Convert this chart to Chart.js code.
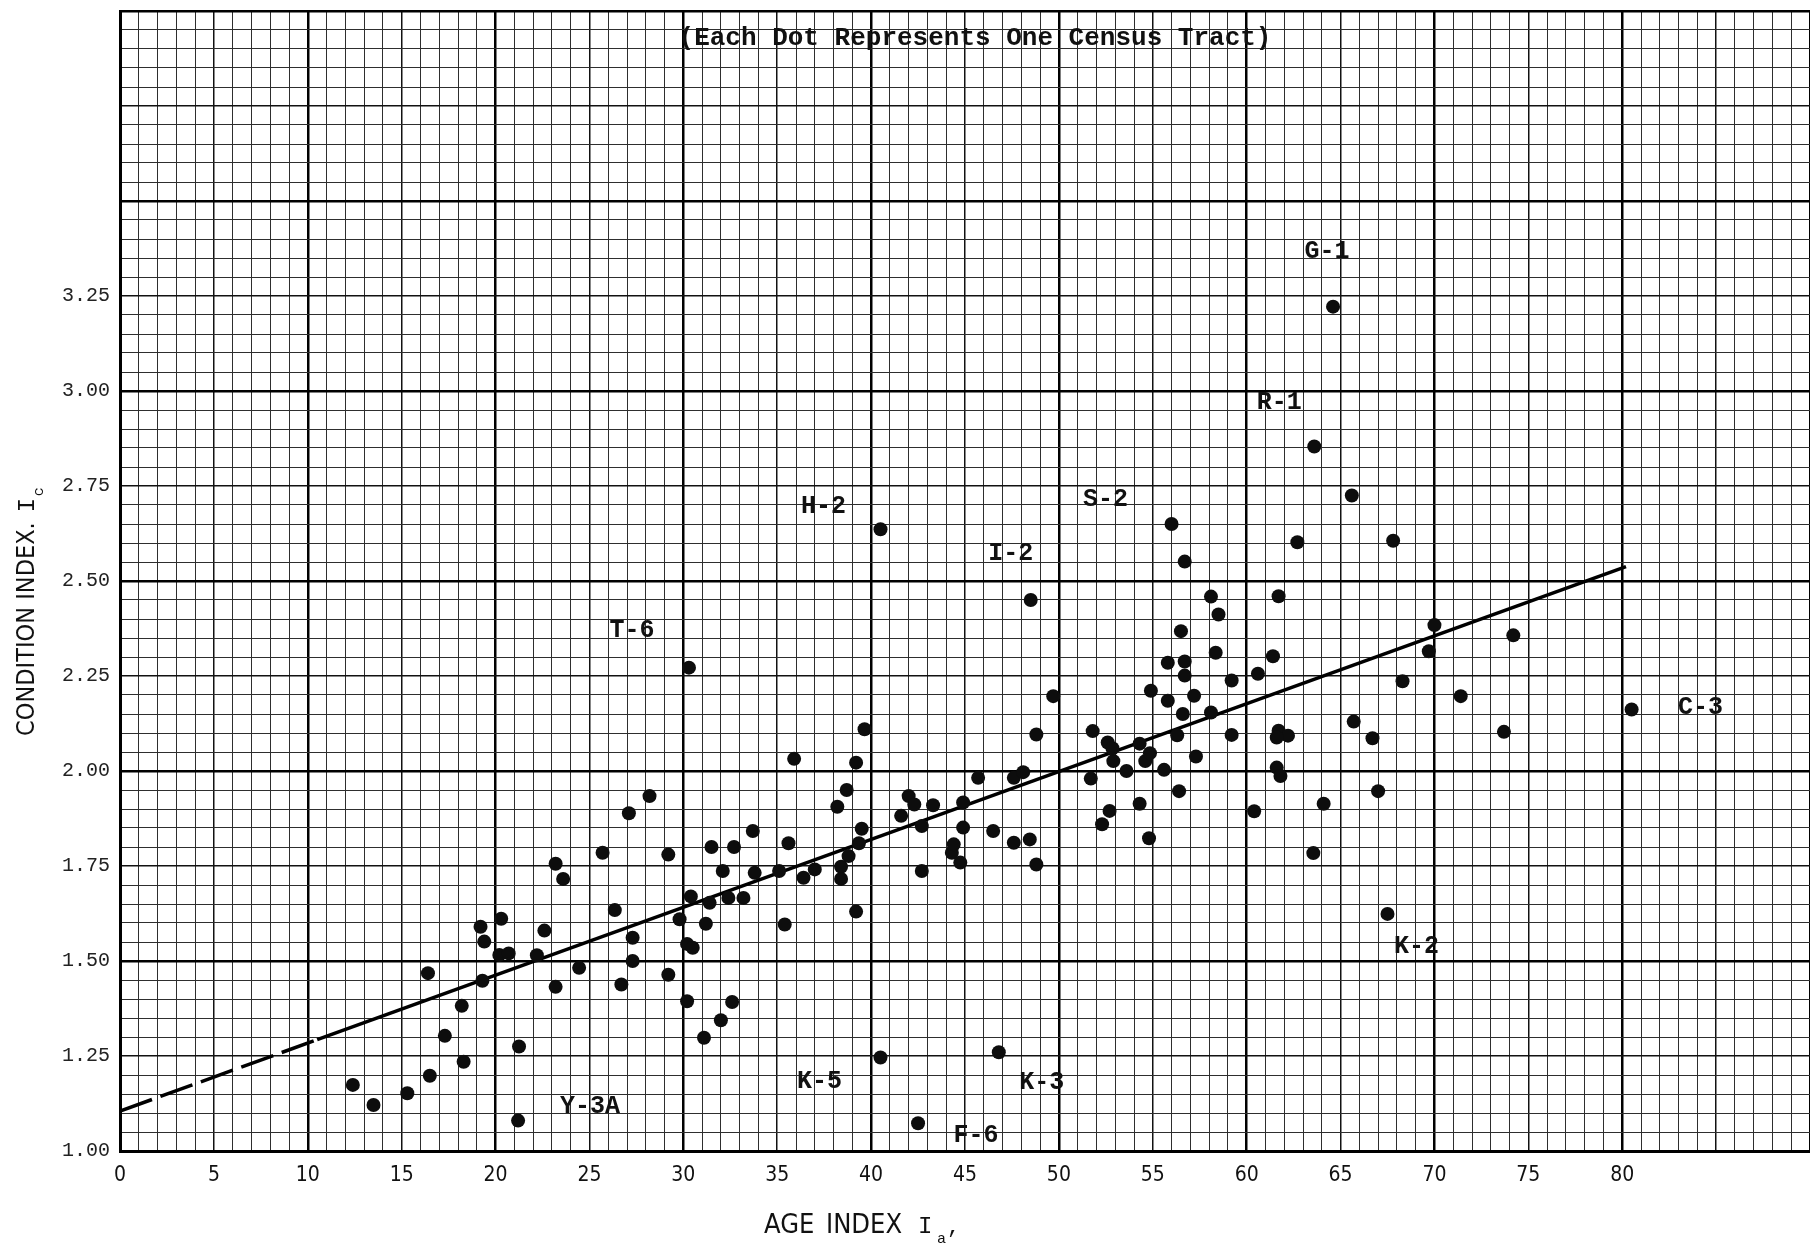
<!DOCTYPE html>
<html><head><meta charset="utf-8">
<script src="https://cdn.jsdelivr.net/npm/chart.js@4.4.1/dist/chart.umd.min.js"></script>
<style>html,body{margin:0;padding:0;background:#fff;}canvas{display:block}</style>
</head><body>
<canvas id="c" width="1810" height="1248"></canvas>
<script>
// ---- data ----
const ageIndex = [12.4,13.5,15.3,16.5,16.4,17.3,18.2,18.3,19.2,19.4,19.3,
  20.3,20.2,20.7,21.25,22.2,22.6,23.2,23.6,23.2,24.45,25.7,26.35,26.7,27.1,27.3,27.3,28.2,29.2,29.2,29.8,
  30.4,30.2,30.5,30.2,31.1,31.2,31.4,31.5,32.0,32.1,32.4,32.6,32.7,33.2,33.7,33.8,35.1,35.4,35.6,35.9,36.4,37.0,
  38.2,38.4,38.4,38.7,38.8,39.2,39.2,39.35,39.5,39.65,
  41.6,42.0,42.3,42.7,42.7,43.3,44.3,44.4,44.75,44.9,44.9,45.7,46.5,47.6,47.6,48.1,48.45,48.8,48.8,49.7,
  51.7,51.8,52.3,52.6,52.85,52.7,52.9,53.6,54.3,54.6,54.85,54.3,54.8,54.9,
  56.7,58.1,58.5,56.5,55.8,56.7,58.35,56.7,59.2,60.6,61.4,61.7,62.7,55.8,57.2,56.6,58.1,56.3,59.2,57.3,55.6,56.4,
  60.4,61.7,62.2,61.6,61.6,61.8,63.55,64.1,65.6,67.8,65.7,66.7,67.0,70.0,69.7,74.2,68.3,71.4,73.7];
const conditionIndex = [1.174,1.121,1.152,1.198,1.468,1.303,1.382,1.235,1.590,1.551,1.448,
  1.611,1.516,1.520,1.275,1.515,1.580,1.756,1.716,1.432,1.482,1.785,1.634,1.438,1.889,1.561,1.500,1.934,1.780,1.464,1.610,
  1.670,1.545,1.535,1.394,1.298,1.598,1.653,1.800,1.344,1.737,1.666,1.392,1.800,1.666,1.842,1.732,1.737,1.596,1.810,2.032,1.719,1.741,
  1.906,1.748,1.716,1.950,1.776,2.022,1.630,1.810,1.848,2.110,
  1.882,1.934,1.912,1.855,1.737,1.910,1.785,1.807,1.759,1.917,1.851,1.982,1.842,1.811,1.982,1.997,1.820,2.096,1.754,2.197,
  1.980,2.105,1.860,2.075,2.060,1.895,2.026,2.000,2.072,2.026,2.047,1.914,1.823,2.211,
  2.551,2.459,2.412,2.368,2.285,2.288,2.311,2.251,2.238,2.256,2.302,2.460,2.602,2.185,2.198,2.150,2.154,2.094,2.095,2.038,2.003,1.947,
  1.894,2.106,2.093,2.088,2.009,1.987,1.784,1.914,2.725,2.606,2.130,2.086,1.947,2.384,2.315,2.357,2.236,2.197,2.103];
const namedTracts = ['G-1','R-1','H-2','I-2','S-2','T-6','C-3','K-2','K-5','K-3','Y-3A','F-6'];
const namedAge    = [64.6,63.6,40.5,48.5,56.0,30.3,80.5,67.5,40.5,46.8,21.2,42.5];
const namedCond   = [3.222,2.854,2.636,2.450,2.650,2.272,2.162,1.624,1.246,1.260,1.080,1.073];
const fitAge  = [0, 10.5, 80.2];
const fitCond = [1.105, 1.293, 2.538];
const xTickLabels = ['0','5','10','15','20','25','30','35','40','45','50','55','60','65','70','75','80'];
const yTickLabels = ['1.00','1.25','1.50','1.75','2.00','2.25','2.50','2.75','3.00','3.25'];
const titleText = '(Each Dot Represents One Census Tract)';

// ---- styles (pixel offsets of the tract labels from their dots) ----
const labelOffsets = {'G-1':[-6,-55],'R-1':[-35,-44],'H-2':[-57,-23],'I-2':[-20,-46],'S-2':[-66,-24],
  'T-6':[-57,-37],'C-3':[69,-2],'K-2':[29,33],'K-5':[-61,24],'K-3':[43,31],'Y-3A':[72,-14],'F-6':[58,12]};

const dots = ageIndex.map((a,i)=>({x:a,y:conditionIndex[i]}))
  .concat(namedAge.map((a,i)=>({x:a,y:namedCond[i]})));
const dashedFit = [{x:fitAge[0],y:fitCond[0]},{x:fitAge[1],y:fitCond[1]}];
const solidFit  = [{x:fitAge[1],y:fitCond[1]},{x:fitAge[2],y:fitCond[2]}];

function gridW(level){return level===2?2.5:(level===1?1.5:1);}
function gridC(level){return level===2?'#000':(level===1?'#111':'#2e2e2e');}
function xLevel(v){const r=Math.round(v);return r%10===0?2:(r%5===0?1:0);}
function yLevel(v){const r=Math.round(v*100);return r%50===0?2:(r%25===0?1:0);}

const textPlugin = {
  id:'texts',
  beforeDraw(chart){const c=chart.ctx;c.save();c.fillStyle='#fff';c.fillRect(0,0,chart.width,chart.height);c.restore();},
  afterDraw(chart){
    const c=chart.ctx, xs=chart.scales.x, ys=chart.scales.y;
    c.save();
    c.fillStyle='#111';
    // title
    c.font='bold 26px "Liberation Mono", monospace';
    c.textAlign='center'; c.textBaseline='middle';
    c.fillText(titleText, 975, 38);
    // tract labels
    c.font='bold 25px "Liberation Mono", monospace';
    namedTracts.forEach((n,i)=>{
      const px=xs.getPixelForValue(namedAge[i]), py=ys.getPixelForValue(namedCond[i]);
      const o=labelOffsets[n];
      c.fillText(n, px+o[0], py+o[1]);
    });
    // x axis title
    c.textAlign='left'; c.textBaseline='alphabetic';
    c.font='27px "Liberation Sans Narrow", "DejaVu Sans Condensed", sans-serif';
    c.fillText('AGE', 764, 1233);
    c.fillText('INDEX', 826, 1233);
    c.font='24px "Liberation Mono", monospace';
    c.fillText('I', 918, 1233);
    c.font='15px "Liberation Mono", monospace';
    c.fillText('a', 937, 1243);
    c.font='22px "Liberation Mono", monospace';
    c.fillText(',', 947, 1233);
    // y axis title
    c.translate(34, 736); c.rotate(-Math.PI/2);
    c.font='25px "Liberation Sans Narrow", "DejaVu Sans Condensed", sans-serif';
    c.fillText('CONDITION INDEX.', 0, 0);
    const w=c.measureText('CONDITION INDEX.').width;
    c.font='24px "Liberation Mono", monospace';
    c.fillText('I', w+10, 0);
    c.font='15px "Liberation Mono", monospace';
    c.fillText('c', w+26, 9);
    c.restore();
  }
};

new Chart(document.getElementById('c'), {
  type:'scatter',
  data:{datasets:[
    {data:dots, backgroundColor:'#0d0d0d', borderColor:'#0d0d0d', pointRadius:7, pointBorderWidth:0, order:0},
    {data:dashedFit, showLine:true, borderColor:'#000', borderWidth:3.5, borderDash:[34,9], pointRadius:0, order:1},
    {data:solidFit, showLine:true, borderColor:'#000', borderWidth:3.5, pointRadius:0, order:1}
  ]},
  options:{
    responsive:false, animation:false, devicePixelRatio:1,
    layout:{autoPadding:false, padding:{top:11,left:0,right:0,bottom:0}},
    plugins:{legend:{display:false}, tooltip:{enabled:false}},
    scales:{
      x:{type:'linear', min:0, max:90,
        afterFit(s){s.height=97; s.paddingLeft=0; s.paddingRight=0;},
        ticks:{stepSize:1, autoSkip:false, maxRotation:0, padding:12, color:'#111',
          font:{family:'"Liberation Sans Narrow", "DejaVu Sans Condensed", sans-serif', size:21},
          callback(v){const s=String(Math.round(v));return xTickLabels.includes(s)?s:'';}},
        grid:{drawTicks:false, color:ctx=>gridC(xLevel(ctx.tick.value)), lineWidth:ctx=>gridW(xLevel(ctx.tick.value))},
        border:{display:true, color:'#000', width:3}
      },
      y:{type:'linear', min:1, max:4,
        afterFit(s){s.width=120; s.paddingTop=0; s.paddingBottom=0;},
        ticks:{stepSize:0.05, autoSkip:false, padding:10, color:'#222',
          font:{family:'"Liberation Mono", monospace', size:20},
          callback(v){const s=(Math.round(v*100)/100).toFixed(2);return yTickLabels.includes(s)?s:'';}},
        grid:{drawTicks:false, color:ctx=>gridC(yLevel(ctx.tick.value)), lineWidth:ctx=>gridW(yLevel(ctx.tick.value))},
        border:{display:true, color:'#000', width:3}
      }
    }
  },
  plugins:[textPlugin]
});
</script>
</body></html>
